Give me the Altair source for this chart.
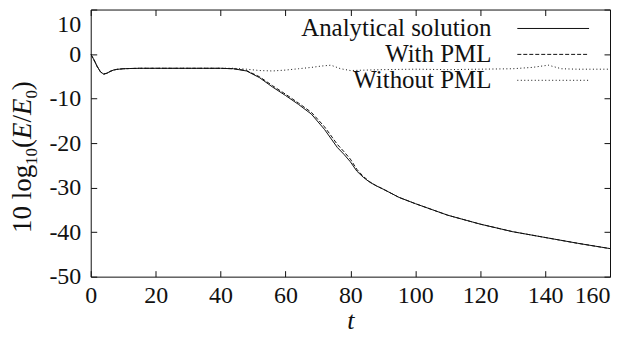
import altair as alt
import pandas as pd

# ---------------- data ----------------
series = ["Analytical solution", "With PML", "Without PML"]

t_analytical = [0, 1, 2, 3, 4, 5, 6, 7, 8, 10, 12, 15, 20, 30, 40, 44, 48, 52, 56, 60, 64, 68,
                72, 76, 78, 80, 82, 84, 86, 88, 90, 95, 100, 110, 120, 130, 140, 150, 160]
e_analytical = [0.0, -1.3, -2.8, -4.0, -4.5, -4.3, -3.9, -3.6, -3.45, -3.3, -3.25, -3.2, -3.2, -3.2,
                -3.2, -3.3, -3.8, -5.3, -7.4, -9.3, -11.3, -13.5, -16.9, -21.0, -22.5, -24.2, -26.3,
                -27.7, -28.8, -29.6, -30.3, -32.2, -33.6, -36.2, -38.2, -39.9, -41.2, -42.5, -43.7]

t_with = [0, 1, 2, 3, 4, 5, 6, 7, 8, 10, 12, 15, 20, 30, 40, 44, 48, 52, 56, 60, 64, 68,
          72, 76, 78, 80, 82, 84, 86, 88, 90, 95, 100, 110, 120, 130, 140, 150, 160]
e_with = [0.0, -1.3, -2.8, -4.0, -4.5, -4.3, -3.9, -3.6, -3.45, -3.3, -3.25, -3.2, -3.2, -3.2,
          -3.2, -3.3, -3.7, -5.1, -7.1, -9.0, -11.0, -13.1, -16.3, -20.3, -21.9, -23.6, -25.9,
          -27.5, -28.7, -29.6, -30.3, -32.2, -33.6, -36.2, -38.2, -39.9, -41.2, -42.5, -43.7]

t_without = [0, 1, 2, 3, 4, 5, 6, 7, 8, 10, 12, 15, 20, 30, 40, 44, 48, 52, 56, 60, 64, 68,
             71, 74, 77, 80, 85, 90, 100, 110, 120, 130, 136, 141, 145, 150, 160]
e_without = [0.0, -1.3, -2.8, -4.0, -4.5, -4.3, -3.9, -3.6, -3.45, -3.3, -3.25, -3.2, -3.2, -3.2,
             -3.2, -3.2, -3.4, -3.7, -3.8, -3.6, -3.3, -3.0, -2.7, -2.5, -3.3, -3.7, -3.6, -3.5,
             -3.4, -3.5, -3.4, -3.3, -3.0, -2.5, -3.3, -3.4, -3.4]

x_ticks = [0, 20, 40, 60, 80, 100, 120, 140, 160]
y_ticks = [-50, -40, -30, -20, -10, 0, 10]
x_title = "t"
# y title pieces: (text, italic?, subscript?)
y_title_parts = [("10 log", False, False), ("10", False, True), ("(", False, False),
                 ("E", True, False), ("/", False, False), ("E", True, False),
                 ("0", False, True), (")", False, False)]

# ---------------- style ----------------
FONT = "Liberation Serif, Times New Roman, serif"
INK = "#111111"
dashes = [None, [4, 2], [1, 2.5]]

xscale = alt.Scale(domain=[0, 160], nice=False, zero=False)
yscale = alt.Scale(domain=[-50, 10], nice=False, zero=False)

TICK = 6
LABEL_EXPR = "'' + datum.value"
ax_bottom = alt.Axis(orient="bottom", values=x_ticks, offset=-TICK, tickSize=TICK, domain=False,
                     grid=False, labelPadding=7, labelFlush=False, labelExpr=LABEL_EXPR,
                     labelAlign={"condition": {"test": "datum.value == 160", "value": "right"},
                                 "value": "center"},
                     title=x_title, titleFontStyle="italic", titleFontWeight="normal",
                     titleFontSize=26, titleFont=FONT, titlePadding=0, titleColor=INK)
ax_left = alt.Axis(orient="left", values=y_ticks, offset=-TICK, tickSize=TICK, domain=False,
                   grid=False, labelPadding=10, labelFlush=False, labelExpr=LABEL_EXPR,
                   labelOffset={"condition": {"test": "datum.value == 10", "value": 15},
                                "value": 0},
                   title=None)
ax_top = alt.Axis(orient="top", values=x_ticks, offset=-TICK, tickSize=TICK, domain=False,
                  grid=False, labels=False, title=None)
ax_right = alt.Axis(orient="right", values=y_ticks, offset=-TICK, tickSize=TICK, domain=False,
                    grid=False, labels=False, title=None)


def line_layer(t, e, dash, xaxis, yaxis):
    df = pd.DataFrame({"t": t, "e": e})
    kw = dict(color=INK, strokeWidth=1, clip=True)
    if dash:
        kw["strokeDash"] = dash
    return alt.Chart(df).mark_line(**kw).encode(
        x=alt.X("t:Q", scale=xscale, axis=xaxis),
        y=alt.Y("e:Q", scale=yscale, axis=yaxis),
    )


layers = [
    line_layer(t_analytical, e_analytical, dashes[0], ax_bottom, ax_left),
    line_layer(t_with, e_with, dashes[1], ax_top, ax_right),
    line_layer(t_without, e_without, dashes[2], None, None),
]

# ---------------- legend (inside top-right) ----------------
LEG_TEXT_X = 402
LEG_LINE_X0, LEG_LINE_X1 = 428, 500
LEG_ROWS = [19, 45, 71]
for i, name in enumerate(series):
    d = pd.DataFrame({"label": [name]})
    layers.append(alt.Chart(d).mark_text(font=FONT, fontSize=25, align="right",
                                         baseline="middle", color=INK).encode(
        text="label:N", x=alt.value(LEG_TEXT_X), y=alt.value(LEG_ROWS[i])))
    rkw = dict(color=INK, strokeWidth=1)
    if dashes[i]:
        rkw["strokeDash"] = dashes[i]
    layers.append(alt.Chart(d).mark_rule(**rkw).encode(
        x=alt.value(LEG_LINE_X0), x2=alt.value(LEG_LINE_X1), y=alt.value(LEG_ROWS[i])))

# ---------------- y-axis title built from pieces ----------------
MAIN_FS, SUB_FS = 27, 17
adv = {"1": 0.5, "0": 0.5, " ": 0.25, "l": 0.278, "o": 0.5, "g": 0.5, "(": 0.333, ")": 0.333,
       "E": 0.611, "/": 0.278}
lengths = [sum(adv[c] for c in txt) * (SUB_FS if sub else MAIN_FS) for txt, it, sub in y_title_parts]
total = sum(lengths)
center_y = 148
pos = center_y + total / 2
BASE_X = -60
for (txt, italic, sub), ln in zip(y_title_parts, lengths):
    d = pd.DataFrame({"s": [txt]})
    layers.append(alt.Chart(d).mark_text(font=FONT, fontSize=SUB_FS if sub else MAIN_FS,
                                         fontStyle="italic" if italic else "normal",
                                         angle=270, align="left", baseline="alphabetic",
                                         color=INK).encode(
        text="s:N", x=alt.value(BASE_X + (6 if sub else 0)), y=alt.value(pos)))
    pos -= ln

chart = alt.layer(*layers).properties(
    width=606, height=326,
    autosize=alt.AutoSizeParams(type="fit", contains="padding"),
    padding={"left": 0, "top": 0, "right": 1, "bottom": 0},
    background="white",
).configure_view(stroke=INK, strokeWidth=1).configure_axis(
    labelFont=FONT, labelFontSize=24, labelColor=INK, tickColor=INK, tickWidth=1,
)

chart.save("out.html", embed_options={"renderer": "svg", "actions": False})
